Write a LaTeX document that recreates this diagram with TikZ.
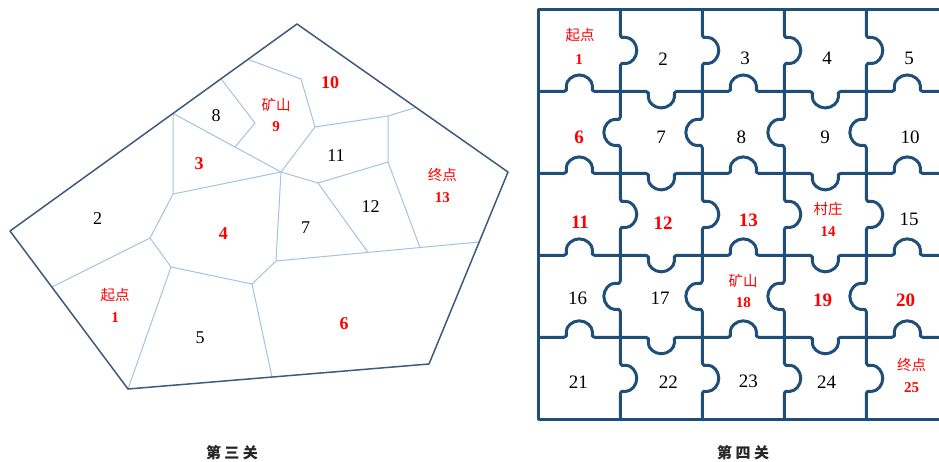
\documentclass[tikz,border=0pt]{standalone}
\usepackage{fontspec}
\setmainfont{Liberation Serif}
\newfontfamily\cjk{Noto Sans CJK SC}
\definecolor{edgec}{HTML}{3F5A7A}
\definecolor{innerc}{HTML}{A4C2E0}
\definecolor{puzc}{HTML}{1F4E79}
\definecolor{lred}{HTML}{FF0000}
\tikzset{
  outline/.style={draw=edgec, line width=1.5pt, line join=round},
  inline/.style={draw=innerc, line width=1pt},
  puz/.style={draw=puzc, line width=3pt, line join=round},
  puzk/.style={puz, rounded corners=2.5pt},
  num/.style={font=\fontsize{18}{20}\selectfont, text=black, inner sep=0pt},
  rnum/.style={font=\fontsize{18}{20}\selectfont\bfseries, text=lred, inner sep=0pt},
  pnum/.style={font=\fontsize{19}{21}\selectfont, text=black, inner sep=0pt},
  prnum/.style={font=\fontsize{19}{21}\selectfont\bfseries, text=lred, inner sep=0pt},
  snum/.style={font=\fontsize{15}{17}\selectfont\bfseries, text=lred, inner sep=0pt},
  cjklbl/.style={font=\cjk\fontsize{14.5}{16}\selectfont, text=lred, inner sep=0pt},
  capt/.style={font=\cjk\bfseries\fontsize{15}{17}\selectfont, text=black!85, inner sep=0pt},
}
\begin{document}
\begin{tikzpicture}[x=1pt,y=-1pt]
\useasboundingbox (0,0) rectangle (939,461);
% ---------- left: pentagon (Level 3) ----------
\coordinate (L) at (10,231);
\coordinate (T) at (297,24);
\coordinate (R) at (508,172);
\coordinate (BR) at (429,364);
\coordinate (BL) at (128,389);
\coordinate (a1) at (173,113.4);
\coordinate (a2) at (221,78.8);
\coordinate (a3) at (248,59.4);
\coordinate (b1) at (416,107.5);
\coordinate (c1) at (479,242);
\coordinate (d1) at (272,377);
\coordinate (e1) at (52,287);
\coordinate (p3) at (173,194);
\coordinate (p4) at (150,238);
\coordinate (p5) at (171,267);
\coordinate (p6) at (252,284);
\coordinate (p7) at (276,261);
\coordinate (p8) at (281,172);
\coordinate (p9) at (235,147);
\coordinate (p10) at (255,123);
\coordinate (p11) at (301,79);
\coordinate (p12) at (315,127);
\coordinate (p13) at (388,116);
\coordinate (p14) at (388,162);
\coordinate (p15) at (318,183);
\coordinate (p16) at (368,252.4);
\coordinate (p17) at (420,247.5);

\draw[inline] (a1) -- (p8);
\draw[inline] (a1) -- (p3) -- (p8);
\draw[inline] (p3) -- (p4) -- (e1);
\draw[inline] (p4) -- (p5) -- (BL);
\draw[inline] (p5) -- (p6) -- (d1);
\draw[inline] (p6) -- (p7) -- (p8);
\draw[inline] (p7) -- (c1);
\draw[inline] (a2) -- (p10) -- (p9);
\draw[inline] (a3) -- (p11) -- (p12) -- (p8);
\draw[inline] (p12) -- (p13) -- (b1);
\draw[inline] (p13) -- (p14) -- (p15) -- (p8);
\draw[inline] (p15) -- (p16);
\draw[inline] (p14) -- (p17);
\draw[outline] (L) -- (T) -- (R) -- (BR) -- (BL) -- cycle;

\node[num] (n2) at (97.7,219) {2};
\node[cjklbl] (q1) at (115,295) {起点};
\node[snum] (n1) at (115,317.5) {1};
\node[rnum] (n3) at (199,163.3) {3};
\node[rnum] (n4) at (223.3,233.3) {4};
\node[num] (n5) at (200,337.3) {5};
\node[rnum] (n6) at (344,323.3) {6};
\node[num] (n7) at (305.7,227.3) {7};
\node[num] (n8) at (216,116) {8};
\node[cjklbl] (q9) at (276,104.5) {矿山};
\node[snum] (n9) at (276,126.7) {9};
\node[rnum] (n10) at (330,82.3) {10};
\node[num] (n11) at (336,155.7) {11};
\node[num] (n12) at (370.7,206.7) {12};
\node[cjklbl] (q13) at (442.3,175) {终点};
\node[snum] (n13) at (442.3,197.7) {13};
\node[capt] (cap3) at (232,453) {第\hspace{3.5pt}三\hspace{3.5pt}关};

% ---------- right: puzzle grid (Level 4) ----------
\begin{scope}
\clip (0,0) rectangle (939,461);
\foreach \k in {1,...,4} {
  \pgfmathsetmacro\Y{9.5+81.95*\k}
  \draw[puzk] (538.3,\Y) \foreach \i [evaluate=\i as \s using {cos(180*\i)}] in {1,...,5} {
     -- ({538.3+82*\i-41-13},\Y) -- ++(0,{3.5*\s})
        arc[start angle=180, end angle={180-180*\s}, radius=13]
        -- ({538.3+82*\i-41+13},\Y)
  } -- (948.3,\Y);
}
\foreach \k in {1,...,4} {
  \pgfmathsetmacro\X{538.3+82*\k}
  \draw[puzk] (\X,9.5) \foreach \j [evaluate=\j as \s using {-cos(180*\j)}] in {1,...,5} {
    -- (\X,{9.5+81.95*\j-40.975-13}) -- ++({3.5*\s},0)
       arc[start angle={90-180*\s}, end angle=90, radius=13]
       -- (\X,{9.5+81.95*\j-40.975+13})
  } -- (\X,419.25);
}
\draw[puz] (538.3,9.5) rectangle (948.3,419.25);
\end{scope}

\node[cjklbl] (r1a) at (580,35) {起点};
\node[snum] (r1) at (579,59.3) {1};
\node[pnum] (r2) at (663,59) {2};
\node[pnum] (r3) at (745,58) {3};
\node[pnum] (r4) at (827,58) {4};
\node[pnum] (r5) at (909,58) {5};
\node[prnum] (r6) at (579,137.3) {6};
\node[pnum] (r7) at (661,137) {7};
\node[pnum] (r8) at (741.3,137) {8};
\node[pnum] (r9) at (825,137) {9};
\node[pnum] (r10) at (910,137) {10};
\node[prnum] (r11) at (580,222) {11};
\node[prnum] (r12) at (663,223) {12};
\node[prnum] (r13) at (748.3,220) {13};
\node[cjklbl] (r14a) at (828,209) {村庄};
\node[snum] (r14) at (828,231.7) {14};
\node[pnum] (r15) at (909,219) {15};
\node[pnum] (r16) at (577.7,298.3) {16};
\node[pnum] (r17) at (660,298.3) {17};
\node[cjklbl] (r18a) at (743,280.7) {矿山};
\node[snum] (r18) at (743.3,302.7) {18};
\node[prnum] (r19) at (822.7,300) {19};
\node[prnum] (r20) at (905.7,300) {20};
\node[pnum] (r21) at (578.3,382.7) {21};
\node[pnum] (r22) at (668.3,382.7) {22};
\node[pnum] (r23) at (748.3,381.7) {23};
\node[pnum] (r24) at (826.7,382.7) {24};
\node[cjklbl] (r25a) at (911.7,365) {终点};
\node[snum] (r25) at (911.7,387.7) {25};
\node[capt] (cap4) at (743,453) {第\hspace{3.5pt}四\hspace{3.5pt}关};
\end{tikzpicture}
\end{document}
